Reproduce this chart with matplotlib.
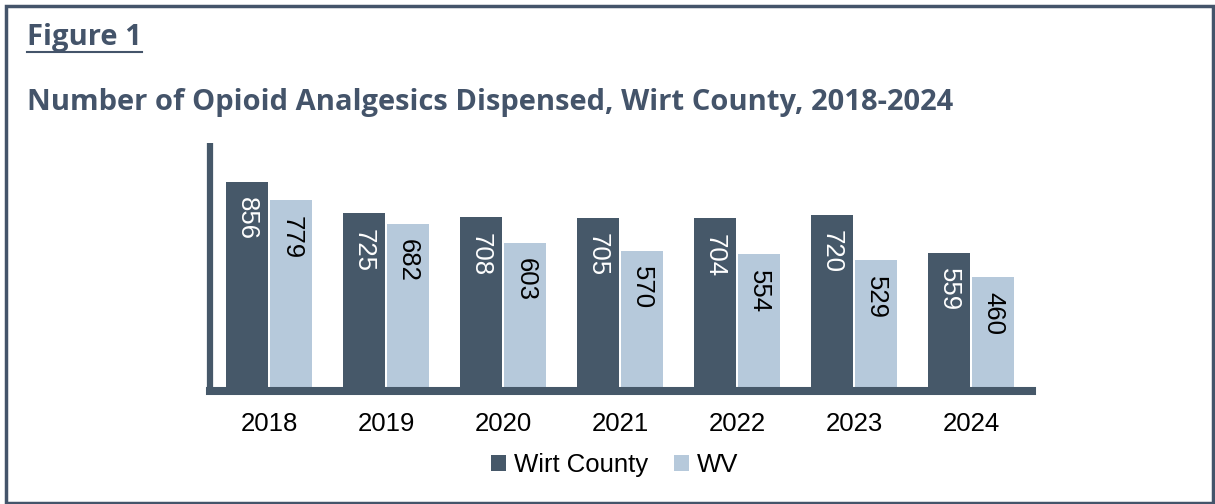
import matplotlib
matplotlib.use("Agg")
import matplotlib.pyplot as plt
from matplotlib.patches import Rectangle
import numpy as np

years = ["2018", "2019", "2020", "2021", "2022", "2023", "2024"]
wirt = [856, 725, 708, 705, 704, 720, 559]
wv = [779, 682, 603, 570, 554, 529, 460]
series_names = ["Wirt County", "WV"]

dark = "#465869"
light = "#B6C9DB"
title_col = "#44546A"
fs = 18.5

fig = plt.figure(figsize=(12.15, 5.04), dpi=100)
ax = fig.add_axes([210/1215, 1-391/504, 822/1215, 248/504])

x = np.arange(len(years))
w = 0.36
off = 0.19
b1 = ax.bar(x - off, wirt, w, color=dark, label=series_names[0])
b2 = ax.bar(x + off, wv, w, color=light, label=series_names[1])

ax.set_xlim(-0.504, 6.52)
ax.set_ylim(-16.7, 1019)

for rect, v in zip(b1, wirt):
    ax.annotate(str(v), (rect.get_x() + rect.get_width()/2, v), xytext=(0, -11),
                textcoords="offset points", ha="center", va="top", rotation=-90,
                color="white", fontsize=fs, family="Liberation Sans")
for rect, v in zip(b2, wv):
    ax.annotate(str(v), (rect.get_x() + rect.get_width()/2, v), xytext=(0, -11),
                textcoords="offset points", ha="center", va="top", rotation=-90,
                color="black", fontsize=fs, family="Liberation Sans")

for s in ["top", "right"]:
    ax.spines[s].set_visible(False)
for s in ["left", "bottom"]:
    ax.spines[s].set_color(dark)
ax.spines["left"].set_linewidth(4.5)
ax.spines["bottom"].set_linewidth(5.8)
ax.spines["left"].set_capstyle("butt")
ax.set_yticks([])
ax.set_xticks(x)
ax.set_xticklabels(years, fontsize=fs, family="Liberation Sans")
ax.tick_params(axis="x", length=0, pad=15)

leg = fig.legend(handles=[b1, b2], labels=series_names, loc="center",
                 bbox_to_anchor=(0.506, 1-465/504), ncol=2, frameon=False,
                 prop={"family": "Liberation Sans", "size": fs},
                 handlelength=0.6, handleheight=0.6, handletextpad=0.3,
                 columnspacing=1.0)

t1 = fig.text(27/1215, 1-38/504, "Figure 1", fontsize=21, fontweight="bold",
              color=title_col, family="Open Sans", va="center", ha="left")
fig.text(27/1215, 1-103/504, "Number of Opioid Analgesics Dispensed, Wirt County, 2018-2024",
         fontsize=21, fontweight="bold", color=title_col, family="Open Sans",
         va="center", ha="left")

fig.canvas.draw()
bb = t1.get_window_extent().transformed(fig.transFigure.inverted())
fig.add_artist(plt.Line2D([bb.x0, bb.x1], [1-52/504, 1-52/504],
                          color=title_col, lw=1.5))

fig.add_artist(Rectangle((5.5/1215, 1.5/504), 1207/1215, 497/504, transform=fig.transFigure,
                         fill=False, edgecolor=title_col, lw=2.5))

fig.savefig("out.png", dpi=100)
